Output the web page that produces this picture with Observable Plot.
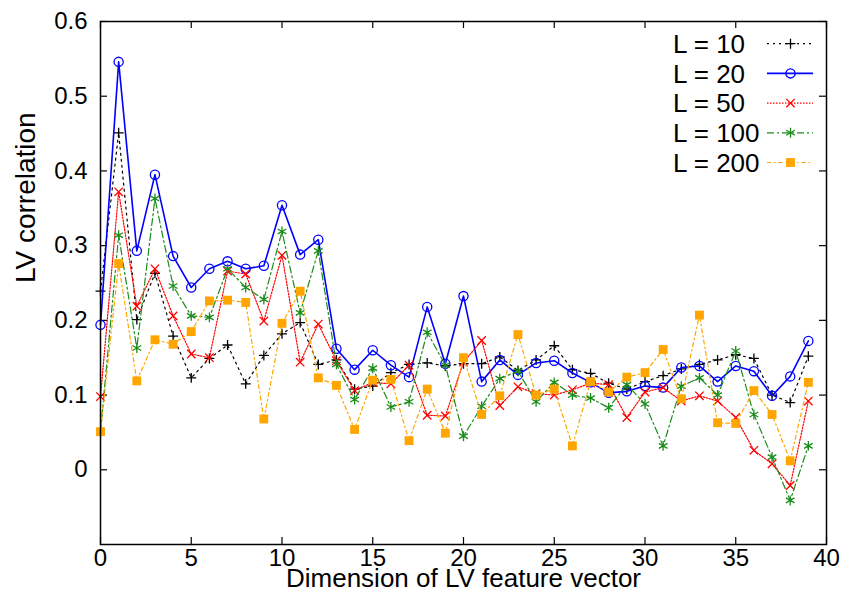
<!DOCTYPE html>
<html>
<head>
<meta charset="utf-8">
<script src="https://cdn.jsdelivr.net/npm/d3@7"></script>
<script src="https://cdn.jsdelivr.net/npm/@observablehq/plot@0.6"></script>
<style>
  body { margin: 0; background: #fff; }
  #wrap { position: relative; width: 843px; height: 595px; font-family: "Liberation Sans", Arial, Helvetica, sans-serif; }
  #wrap svg { display: block; }
  #legend { position: absolute; left: 0; top: 0; pointer-events: none; }
</style>
</head>
<body>
<div id="wrap"></div>
<script>
// ---------- data ----------
const dims = [0,1,2,3,4,5,6,7,8,9,10,11,12,13,14,15,16,17,18,19,20,21,22,23,24,25,26,27,28,29,30,31,32,33,34,35,36,37,38,39];

const L10  = [0.239,0.451,0.201,0.263,0.179,0.123,0.149,0.167,0.115,0.153,0.182,0.197,0.141,0.147,0.108,0.112,0.130,0.141,0.143,0.139,0.142,0.142,0.151,0.133,0.147,0.166,0.134,0.129,0.116,0.108,0.118,0.126,0.135,0.141,0.147,0.154,0.149,0.100,0.090,0.152];
const L20  = [0.194,0.546,0.293,0.395,0.286,0.244,0.269,0.279,0.269,0.273,0.354,0.288,0.308,0.162,0.134,0.160,0.140,0.124,0.218,0.142,0.2325,0.118,0.147,0.127,0.143,0.146,0.1295,0.117,0.103,0.105,0.112,0.110,0.137,0.139,0.118,0.139,0.132,0.099,0.125,0.1725];
const L50  = [0.098,0.372,0.219,0.269,0.206,0.155,0.150,0.266,0.262,0.199,0.287,0.144,0.195,0.146,0.106,0.117,0.115,0.140,0.073,0.072,0.144,0.173,0.086,0.111,0.102,0.100,0.107,0.116,0.114,0.070,0.104,0.110,0.092,0.099,0.092,0.070,0.026,0.008,-0.021,0.092];
const L100 = [0.051,0.314,0.163,0.363,0.246,0.206,0.204,0.269,0.244,0.228,0.319,0.210,0.293,0.141,0.094,0.136,0.084,0.091,0.184,0.140,0.045,0.085,0.122,0.132,0.091,0.117,0.100,0.096,0.083,0.114,0.088,0.032,0.112,0.123,0.100,0.159,0.074,0.017,-0.041,0.032];
const L200 = [0.051,0.276,0.119,0.174,0.168,0.185,0.226,0.227,0.224,0.068,0.196,0.239,0.123,0.113,0.054,0.120,0.121,0.039,0.108,0.049,0.150,0.074,0.099,0.181,0.100,0.108,0.032,0.118,0.104,0.124,0.130,0.161,0.095,0.207,0.063,0.062,0.106,0.074,0.012,0.117];

const seriesNames = ["L = 10", "L = 20", "L = 50", "L = 100", "L = 200"];
const xTicks = [0,5,10,15,20,25,30,35,40];
const yTicks = [0,0.1,0.2,0.3,0.4,0.5,0.6];
const xLabel = "Dimension of LV feature vector";
const yLabel = "LV correlation";

// ---------- styles ----------
const styles = [
  {values: L10,  color: "#000000", dash: "2,4",       width: 1.2, symbol: "plus",     r: 3.3, filled: false},
  {values: L20,  color: "#0000ff", dash: null,        width: 1.6, symbol: "circle",   r: 4.6, filled: false},
  {values: L50,  color: "#ff0000", dash: "1.5,1.5",   width: 1.2, symbol: "times",    r: 3.9, filled: false},
  {values: L100, color: "#1a8c1a", dash: "7,3,2,3",   width: 1.2, symbol: "asterisk", r: 4.7, filled: false},
  {values: L200, color: "#ffa500", dash: "4,3,1.5,3", width: 1.2, symbol: "square",   r: 5.0, filled: true}
];

const W = 843, H = 595;
const mL = 100, mR = 17, mT = 21, mB = 51;
const innerW = W - mL - mR, innerH = H - mT - mB;
const tick = 7;

const marks = [];
styles.forEach((s, k) => {
  const rows = s.values.map((v, i) => ({x: dims[i], y: v, name: seriesNames[k]}));
  marks.push(Plot.line(rows, {x: "x", y: "y", stroke: s.color, strokeWidth: s.width, strokeDasharray: s.dash}));
  marks.push(Plot.dot(rows, {
    x: "x", y: "y", symbol: s.symbol, r: s.r,
    fill: s.filled ? s.color : "none",
    stroke: s.filled ? "none" : s.color,
    strokeWidth: 1.3
  }));
});

const chart = Plot.plot({
  width: W, height: H,
  marginLeft: mL, marginRight: mR, marginTop: mT, marginBottom: mB,
  style: {fontFamily: '"Liberation Sans", Arial, Helvetica, sans-serif', background: "#fff", color: "#000"},
  x: {domain: [0, 40]},
  y: {domain: [-0.1, 0.6]},
  marks: [
    // inward ticks (bottom, top, left, right)
    Plot.tickX(xTicks, {x: d => d, stroke: "#000", strokeWidth: 1.2, insetTop: innerH - tick}),
    Plot.tickX(xTicks, {x: d => d, stroke: "#000", strokeWidth: 1.2, insetBottom: innerH - tick}),
    Plot.tickY(yTicks, {y: d => d, stroke: "#000", strokeWidth: 1.2, insetRight: innerW - tick}),
    Plot.tickY(yTicks, {y: d => d, stroke: "#000", strokeWidth: 1.2, insetLeft: innerW - tick}),
    ...marks,
    Plot.frame({stroke: "#000", strokeWidth: 1.5}),
    Plot.axisX(xTicks, {tickSize: 0, tickPadding: 4, fontSize: 24, label: null}),
    Plot.axisY(yTicks, {tickSize: 0, tickPadding: 13, fontSize: 24, label: null,
      tickFormat: d => d === 0 ? "0" : d.toFixed(1)}),
    Plot.text([xLabel], {text: d => d, frameAnchor: "bottom", dy: 42, fontSize: 26, fill: "#000"}),
    Plot.text([yLabel], {text: d => d, frameAnchor: "left", rotate: -90, dx: -74, fontSize: 28, fill: "#000"})
  ]
});

const wrap = document.getElementById("wrap");
wrap.appendChild(chart);

// ---------- legend (overlay inside plot area, top-right) ----------
const symbolTypes = {plus: d3.symbolPlus, circle: d3.symbolCircle, times: d3.symbolTimes, asterisk: d3.symbolAsterisk, square: d3.symbolSquare};
const leg = d3.select(wrap).append("svg")
  .attr("id", "legend").attr("width", W).attr("height", H);
const legX = 673, lineX0 = 767, lineX1 = 813, symX = 790.5, legY0 = 43.7, legDY = 29.7;
styles.forEach((s, k) => {
  const y = legY0 + k * legDY;
  const g = leg.append("g");
  g.append("text")
    .attr("x", legX).attr("y", y + 9.3)
    .attr("font-size", 26)
    .attr("font-family", '"Liberation Sans", Arial, Helvetica, sans-serif')
    .attr("fill", "#000")
    .text(seriesNames[k]);
  g.append("line")
    .attr("x1", lineX0).attr("x2", lineX1).attr("y1", y).attr("y2", y)
    .attr("stroke", s.color).attr("stroke-width", s.width)
    .attr("stroke-dasharray", s.dash);
  g.append("path")
    .attr("transform", `translate(${symX},${y})`)
    .attr("d", d3.symbol().type(symbolTypes[s.symbol]).size(Math.PI * s.r * s.r)())
    .attr("fill", s.filled ? s.color : "none")
    .attr("stroke", s.filled ? "none" : s.color)
    .attr("stroke-width", 1.3);
});
</script>
</body>
</html>
